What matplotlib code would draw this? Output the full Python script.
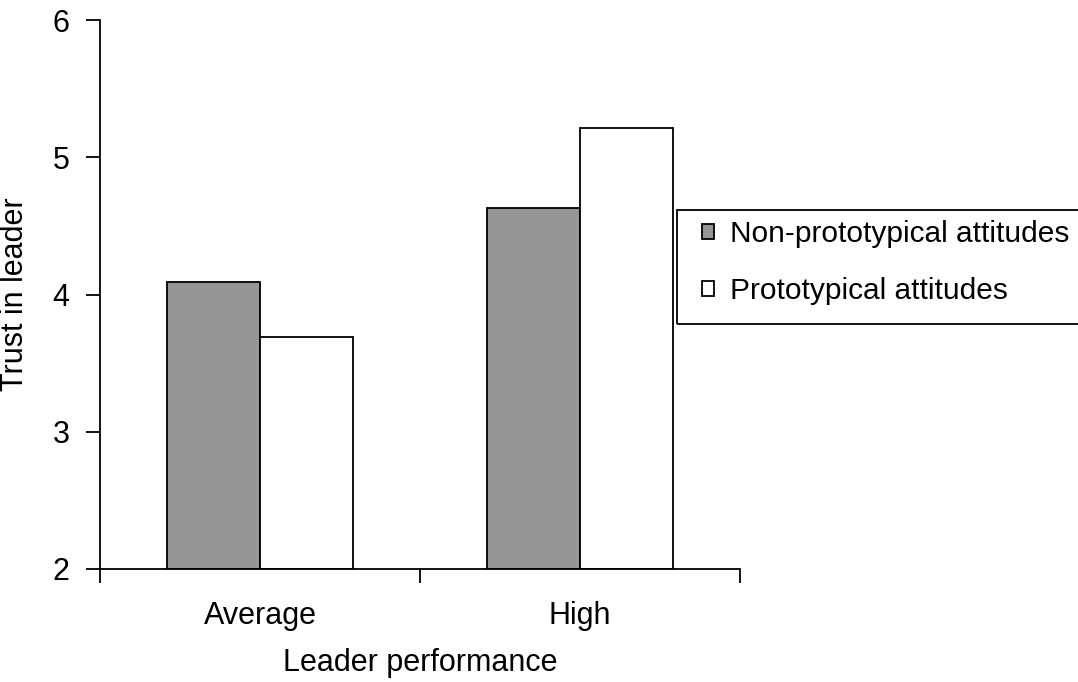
import matplotlib
matplotlib.use('Agg')
import matplotlib.pyplot as plt
from matplotlib.patches import Rectangle
import numpy as np

# Данные
categories = ['Average', 'High']
non_proto = [4.09, 4.63]
proto = [3.69, 5.21]
series_labels = ['Non-prototypical attitudes', 'Prototypical attitudes']

plt.rcParams['font.family'] = ['Liberation Sans', 'DejaVu Sans']

fig = plt.figure(figsize=(10.78, 6.82), dpi=100)
ax = fig.add_axes([100 / 1078, 113 / 682, 640 / 1078, 549 / 682])

x = np.arange(len(categories)) + 0.5
w = 0.29
ax.bar(x - w / 2, [v - 2 for v in non_proto], w, bottom=2, color='#969696',
       edgecolor='black', linewidth=1.3, label=series_labels[0])
ax.bar(x + w / 2, [v - 2 for v in proto], w, bottom=2, color='white',
       edgecolor='black', linewidth=1.3, label=series_labels[1])

ax.set_xlim(0, 2)
ax.set_ylim(2, 6)
ax.set_yticks([2, 3, 4, 5, 6])
ax.set_xticks([0, 1, 2])
ax.set_xticklabels([])
ax.set_xticks(x, minor=True)
ax.set_xticklabels(categories, minor=True)
ax.tick_params(axis='x', which='minor', length=0, pad=23, labelsize=22)
ax.tick_params(axis='x', which='major', direction='out', length=10, width=1.3)
ax.tick_params(axis='y', direction='out', length=10, width=1.3, labelsize=22, pad=12)

for side in ['top', 'right']:
    ax.spines[side].set_visible(False)
for side in ['left', 'bottom']:
    ax.spines[side].set_linewidth(1.3)

ax.set_ylabel('Trust in leader', fontsize=22, labelpad=16)
ax.set_xlabel('Leader performance', fontsize=22, labelpad=12)

# легенда без рамки + рамка отдельно (уходит за правый край)
leg = ax.legend(loc='upper left', bbox_to_anchor=(702 / 1078, 462 / 682),
                bbox_transform=fig.transFigure, borderaxespad=0, borderpad=0,
                fontsize=21.5, frameon=False,
                handlelength=0.4, handleheight=0.4, handletextpad=0.55,
                labelspacing=0.98)
for h in leg.legend_handles:
    h.set_linewidth(1.3)
fig.patches.append(Rectangle((677 / 1078, (682 - 324) / 682), 420 / 1078, 114 / 682,
                             transform=fig.transFigure, fill=False,
                             edgecolor='black', linewidth=1.3, zorder=5))

fig.savefig('out.png', dpi=100)
